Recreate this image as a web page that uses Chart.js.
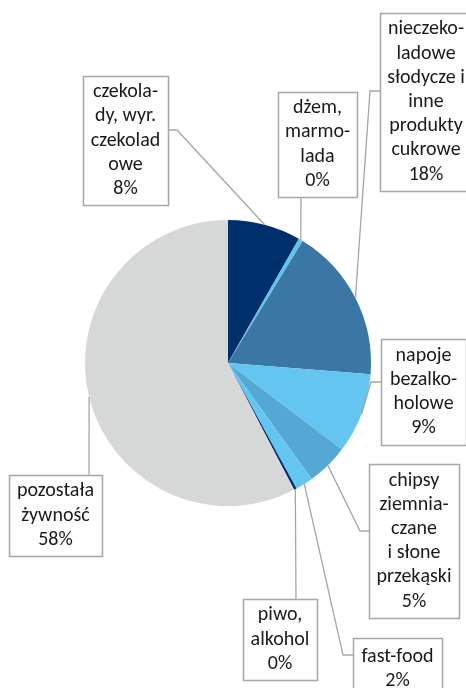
<!DOCTYPE html>
<html>
<head>
<meta charset="utf-8">
<script src="https://cdn.jsdelivr.net/npm/chart.js@4"></script>
<style>
html,body{margin:0;padding:0;background:#fff;}
#wrap{width:466px;height:688px;position:relative;}
</style>
</head>
<body>
<div id="wrap"><canvas id="c" width="466" height="688"></canvas></div>
<script>
// ---- data ----
const categories = [
  ["czekola-","dy, wyr.","czekolad","owe"],
  ["dżem,","marmo-","lada"],
  ["nieczeko-","ladowe","słodycze i","inne","produkty","cukrowe"],
  ["napoje","bezalko-","holowe"],
  ["chipsy","ziemnia-","czane","i słone","przekąski"],
  ["fast-food"],
  ["piwo,","alkohol"],
  ["pozostała","żywność"]
];
const values = [8.25, 0.5, 17.5, 9.1, 4.7, 2.0, 0.3, 57.65];
const percentLabels = ["8%","0%","18%","9%","5%","2%","0%","58%"];
const colors = ["#00306b","#5ec5f0","#3a77a4","#63c5f0","#55a8d4","#63c5f0","#00306b","#d6d7d7"];

// ---- label layout (box rect, leader start + elbow) ----
const labelLayout = [
  {box:[83,76,85,129],  path:[[168,130],[177,130]]},
  {box:[278,92,79,105], path:[[301,197]]},
  {box:[380,13,92,178], path:[[380,91],[370,91]]},
  {box:[381,339,85,106],path:[[381,382],[371,382]]},
  {box:[369,464,90,154],path:[[369,531],[360,531]]},
  {box:[353,638,89,62], path:[[353,655],[343,655]]},
  {box:[243,599,74,81], path:[[296,599]]},
  {box:[9,475,93,81],   path:[[89,475]]}
];

const labelPlugin = {
  id:'boxLabels',
  afterDatasetsDraw(chart){
    const ctx = chart.ctx;
    const meta = chart.getDatasetMeta(0);
    ctx.save();
    meta.data.forEach((arc,i)=>{
      const p = arc.getProps(['x','y','startAngle','endAngle','outerRadius'],true);
      const mid = (p.startAngle+p.endAngle)/2;
      const ex = p.x + Math.cos(mid)*p.outerRadius;
      const ey = p.y + Math.sin(mid)*p.outerRadius;
      const L = labelLayout[i];
      ctx.strokeStyle = '#a6a6a6';
      ctx.lineWidth = 1.3;
      ctx.beginPath();
      ctx.moveTo(L.path[0][0], L.path[0][1]);
      for(let k=1;k<L.path.length;k++) ctx.lineTo(L.path[k][0], L.path[k][1]);
      ctx.lineTo(ex, ey);
      ctx.stroke();
      const [bx,by,bw,bh] = L.box;
      ctx.fillStyle = '#fff';
      ctx.fillRect(bx,by,bw,bh);
      ctx.lineWidth = 1.5;
      ctx.strokeRect(bx+0.5,by+0.5,bw,bh);
      const lines = categories[i].concat([percentLabels[i]]);
      const lh = 24.2;
      ctx.fillStyle = '#1a1a1a';
      ctx.font = '20px Carlito, Lato, sans-serif';
      ctx.textAlign = 'center';
      ctx.textBaseline = 'middle';
      const cx = bx + bw/2;
      const cy = by + bh/2;
      const y0 = cy - (lines.length-1)*lh/2;
      lines.forEach((t,k)=>ctx.fillText(t, cx, y0 + k*lh));
    });
    ctx.restore();
  }
};

new Chart(document.getElementById('c'), {
  type:'pie',
  data:{
    labels: categories.map(c=>c.join(' ')),
    datasets:[{data:values, backgroundColor:colors, borderWidth:0}]
  },
  options:{
    responsive:false,
    animation:false,
    layout:{padding:{left:85,right:95,top:220,bottom:182}},
    plugins:{legend:{display:false},tooltip:{enabled:false}}
  },
  plugins:[labelPlugin]
});
</script>
</body>
</html>
